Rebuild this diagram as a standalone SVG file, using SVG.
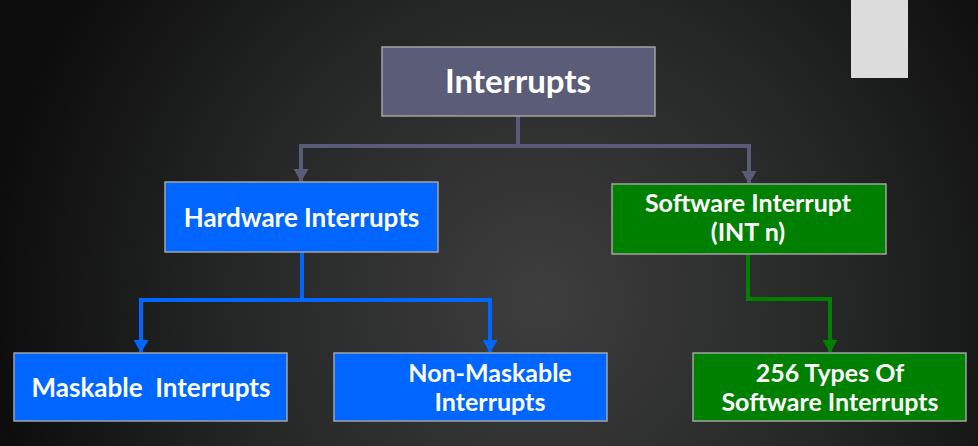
<svg xmlns="http://www.w3.org/2000/svg" width="978" height="446" viewBox="0 0 978 446">
<defs>
<radialGradient id="bg" cx="540" cy="300" r="560" gradientUnits="userSpaceOnUse">
<stop offset="0" stop-color="#3e3e3e"/>
<stop offset="0.55" stop-color="#252626"/>
<stop offset="1" stop-color="#0c0c0c"/>
</radialGradient>
<marker id="aGray" viewBox="0 0 13 15" refX="12" refY="7.5" markerWidth="13" markerHeight="15" markerUnits="userSpaceOnUse" orient="auto">
<path d="M0,0 L13,7.5 L0,15 Z" fill="#595b78"/>
</marker>
<marker id="aBlue" viewBox="0 0 13 15" refX="12" refY="7.5" markerWidth="13" markerHeight="15" markerUnits="userSpaceOnUse" orient="auto">
<path d="M0,0 L13,7.5 L0,15 Z" fill="#0066ff"/>
</marker>
<marker id="aGreen" viewBox="0 0 13 15" refX="12" refY="7.5" markerWidth="13" markerHeight="15" markerUnits="userSpaceOnUse" orient="auto">
<path d="M0,0 L13,7.5 L0,15 Z" fill="#008000"/>
</marker>
</defs>
<style>
.box{stroke:#a3a3a3;stroke-width:1.5}
.t{font-family:"Lato","Liberation Sans",sans-serif;font-weight:bold;fill:#ffffff;text-anchor:middle}
.c{fill:none;stroke-width:4;stroke-linejoin:miter}
</style>
<rect width="978" height="446" fill="url(#bg)"/>
<rect x="851" y="0" width="57" height="78" fill="#dcdcdc"/>
<g id="connectors">
<path class="c" d="M518,116 V146 M299,146 H751" stroke="#595b78"/>
<path class="c" d="M301,144 V181" stroke="#595b78" marker-end="url(#aGray)"/>
<path class="c" d="M749,144 V183" stroke="#595b78" marker-end="url(#aGray)"/>
<path class="c" d="M302,252 V300 M139,300 H492" stroke="#0066ff"/>
<path class="c" d="M141,298 V352" stroke="#0066ff" marker-end="url(#aBlue)"/>
<path class="c" d="M490,298 V352" stroke="#0066ff" marker-end="url(#aBlue)"/>
<path class="c" d="M748,254 V299 H830 V352" stroke="#008000" marker-end="url(#aGreen)"/>
</g>
<g id="interrupts">
<rect class="box" x="382" y="47" width="273" height="69" fill="#5a5c78"/>
<text class="t" x="518" y="93" font-size="33">Interrupts</text>
</g>
<g id="hardware">
<rect class="box" x="165" y="182" width="273" height="70" fill="#0066ff"/>
<text class="t" x="301.5" y="227" font-size="26">Hardware Interrupts</text>
</g>
<g id="software">
<rect class="box" x="612" y="184" width="274" height="70" fill="#008000"/>
<text class="t" x="748" y="212" font-size="25">Software Interrupt</text>
<text class="t" x="748" y="241" font-size="25">(INT n)</text>
</g>
<g id="maskable">
<rect class="box" x="14" y="353" width="273" height="68" fill="#0066ff"/>
<text class="t" x="151" y="397" font-size="26" xml:space="preserve">Maskable  Interrupts</text>
</g>
<g id="nonmaskable">
<rect class="box" x="334" y="353" width="273" height="68" fill="#0066ff"/>
<text class="t" x="490" y="382" font-size="25">Non-Maskable</text>
<text class="t" x="490" y="411" font-size="25">Interrupts</text>
</g>
<g id="types256">
<rect class="box" x="693" y="353" width="273" height="68" fill="#008000"/>
<text class="t" x="830" y="382" font-size="25">256 Types Of</text>
<text class="t" x="830" y="411" font-size="25">Software Interrupts</text>
</g>
</svg>
